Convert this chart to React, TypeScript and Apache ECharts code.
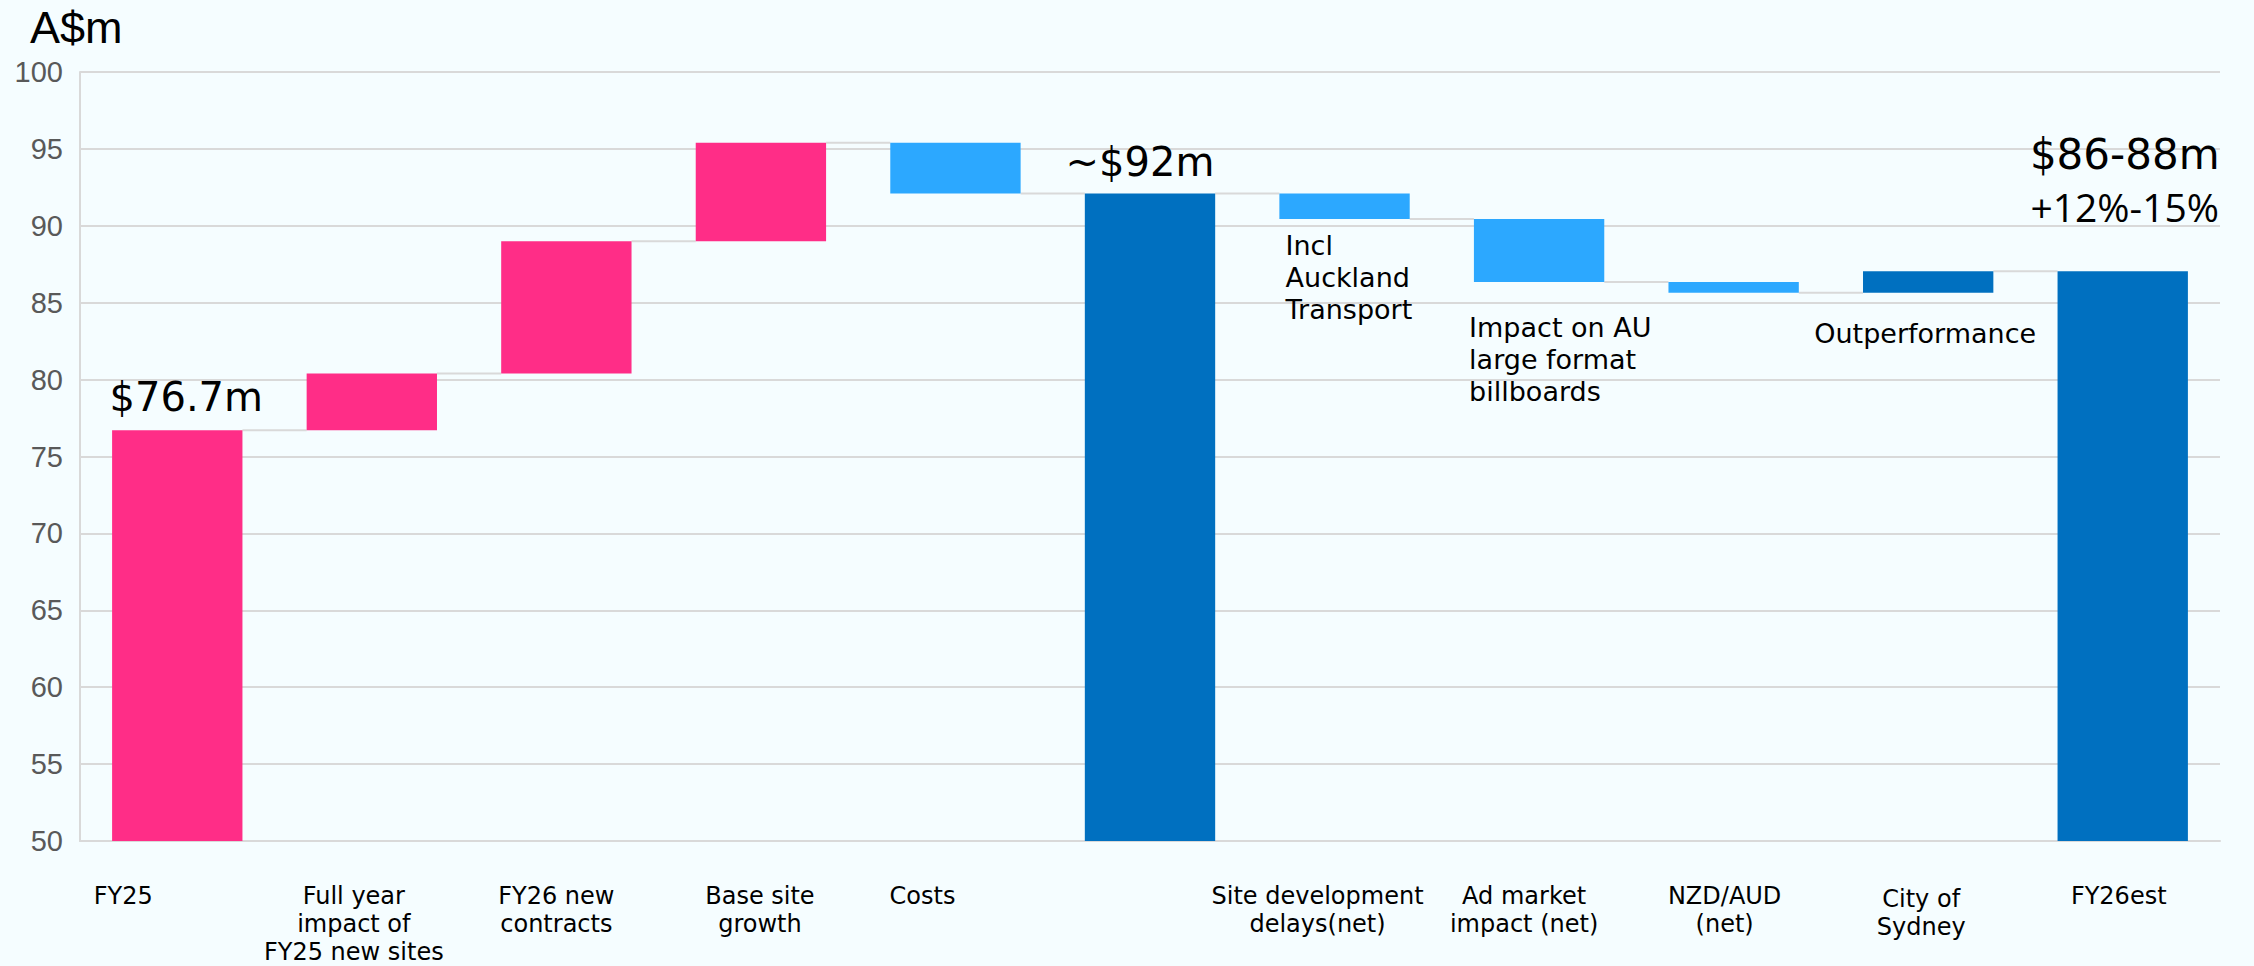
import React, { useEffect, useRef } from "react";
import * as echarts from "echarts";

// ---- data ----
const categories = [
  "FY25",
  "Full year\nimpact of\nFY25 new sites",
  "FY26 new\ncontracts",
  "Base site\ngrowth",
  "Costs",
  "",
  "Site development\ndelays(net)",
  "Ad market\nimpact (net)",
  "NZD/AUD\n(net)",
  "City of\nSydney",
  "FY26est",
];
// totals are absolute values, other entries are changes
const barValues = [76.7, 3.7, 8.6, 6.4, -3.3, 92.1, -1.65, -4.1, -0.7, 1.4, 87.05];
const barKinds = ["start", "up", "up", "up", "down", "total", "down", "down", "down", "out", "total"];
const valueLabels = ["$76.7m", "", "", "", "", "~$92m", "", "", "", "", ""];
const estimateLabel = ["$86-88m", "+12%-15%"];
const notes = [
  "",
  "",
  "",
  "",
  "",
  "",
  "Incl\nAuckland\nTransport",
  "Impact on AU\nlarge format\nbillboards",
  "",
  "Outperformance",
  "",
];
const yMin = 50;
const yMax = 100;
const yStep = 5;
const axisTitle = "A$m";

// ---- styles ----
const kindColor: Record<string, string> = {
  start: "#FF2D87",
  up: "#FF2D87",
  down: "#2CA8FF",
  out: "#0070C0",
  total: "#0070C0",
};
const labelShift = [54, 18, 10, 1, 33, 0, 27, 15, 9, 7, 4]; // px to the left of category centre
const labelDrop = [0, 0, 0, 0, 0, 0, 0, 0, 0, 5, 0];
const GRID = "#D9D9D9";
const FONT = "DejaVu Sans";

export default function App() {
  const ref = useRef<HTMLDivElement>(null);

  useEffect(() => {
    document.body.style.margin = "0";
    if (!ref.current) return;
    const chart = echarts.init(ref.current, undefined, { renderer: "svg" });

    // waterfall layout
    let level = 0;
    const base: number[] = [];
    const heights: number[] = [];
    const after: number[] = [];
    barValues.forEach((v, i) => {
      const k = barKinds[i];
      if (k === "start" || k === "total") {
        base.push(0);
        heights.push(v);
        level = v;
      } else if (v >= 0) {
        base.push(level);
        heights.push(v);
        level += v;
      } else {
        base.push(level + v);
        heights.push(-v);
        level += v;
      }
      after.push(+level.toFixed(3));
    });

    const connectors = after.slice(0, -1).map((lv, i) => [i, lv]);

    const deltaData = heights.map((h, i) => {
      const item: any = {
        value: h,
        itemStyle: { color: kindColor[barKinds[i]] },
      };
      if (valueLabels[i]) {
        item.label = {
          show: true,
          position: "top",
          distance: 0,
          offset: i === 0 ? [9, -9] : [-10, -8],
          formatter: valueLabels[i],
          fontSize: 40,
          lineHeight: 48,
          fontFamily: FONT,
          color: "#000",
        };
      }
      if (i === barValues.length - 1) {
        item.label = {
          show: true,
          position: "top",
          distance: 0,
          offset: [2, -39],
          formatter: `{a|${estimateLabel[0]}}\n{b|${estimateLabel[1]}}`,
          rich: {
            a: { fontSize: 42, lineHeight: 52, fontFamily: FONT, color: "#000" },
            b: { fontSize: 39, lineHeight: 52, fontFamily: "Open Sans", color: "#000" },
          },
        };
      }
      if (notes[i]) {
        const isCenter = barKinds[i] === "out";
        item.label = {
          show: true,
          position: "bottom",
          distance: 0,
          align: isCenter ? "center" : "left",
          verticalAlign: "top",
          offset: i === 6 ? [-59, 11] : i === 7 ? [-70, 30] : [-3, 25],
          formatter: notes[i],
          fontSize: 27,
          lineHeight: 32,
          fontFamily: FONT,
          color: "#000",
        };
      }
      return item;
    });

    const rich: Record<string, any> = {};
    categories.forEach((_, i) => {
      rich["r" + i] = {
        fontSize: 24,
        lineHeight: 28,
        fontFamily: FONT,
        color: "#000",
        padding: [labelDrop[i], labelShift[i] * 2, 0, 0],
      };
    });

    chart.setOption({
      animation: false,
      backgroundColor: "#F5FDFF",
      grid: { left: 80, right: 34, top: 72, bottom: 123, containLabel: false },
      graphic: [
        {
          type: "text",
          x: 30,
          y: 27,
          style: {
            text: axisTitle,
            fontSize: 45,
            fontFamily: "Liberation Sans",
            fill: "#000",
            verticalAlign: "middle",
            align: "left",
          },
        },
      ],
      xAxis: {
        type: "category",
        data: categories,
        axisLine: { show: true, onZero: false, lineStyle: { color: GRID, width: 2 } },
        axisTick: { show: false },
        axisLabel: {
          interval: 0,
          margin: 41,
          fontSize: 24,
          lineHeight: 28,
          fontFamily: FONT,
          color: "#000",
          formatter: (value: string, index: number) =>
            value
              .split("\n")
              .map((l) => `{r${index}|${l}}`)
              .join("\n"),
          rich,
        },
      },
      yAxis: {
        type: "value",
        min: yMin,
        max: yMax,
        interval: yStep,
        axisLine: { show: true, lineStyle: { color: GRID, width: 2 } },
        axisTick: { show: false },
        axisLabel: {
          fontSize: 29,
          fontFamily: "Liberation Sans",
          color: "#595959",
          margin: 17,
        },
        splitLine: { show: true, lineStyle: { color: GRID, width: 2 } },
      },
      series: [
        {
          type: "custom",
          name: "connectors",
          data: connectors,
          z: 1,
          renderItem: (params: any, api: any) => {
            const p = api.coord([api.value(0), api.value(1)]);
            const q = api.coord([api.value(0) + 1, api.value(1)]);
            const half = (api.size([1, 0])[0] * 0.67) / 2;
            return {
              type: "line",
              shape: { x1: p[0] + half, y1: p[1], x2: q[0] - half, y2: q[1] },
              style: { stroke: GRID, lineWidth: 2 },
            };
          },
        },
        {
          type: "bar",
          name: "base",
          stack: "w",
          barWidth: "67%",
          data: base,
          itemStyle: { color: "transparent" },
          emphasis: { disabled: true },
          z: 2,
        },
        {
          type: "bar",
          name: "delta",
          stack: "w",
          barWidth: "67%",
          data: deltaData,
          z: 3,
        },
      ],
    });

    return () => chart.dispose();
  }, []);

  return <div ref={ref} style={{ width: 2254, height: 966 }} />;
}
